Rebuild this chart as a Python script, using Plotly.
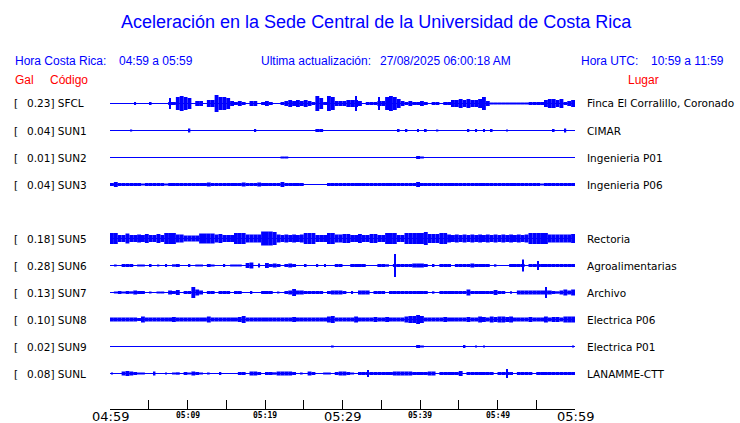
import plotly.graph_objects as go

W, H = 740, 423

TITLE = "Aceleración en la Sede Central de la Universidad de Costa Rica"
HORA_CR = "04:59 a 05:59"
HORA_UTC = "10:59 a 11:59"
ACTUALIZACION = "27/08/2025 06:00:18 AM"

CODES = ["SFCL", "SUN1", "SUN2", "SUN3", "SUN5", "SUN6", "SUN7", "SUN8", "SUN9", "SUNL"]
PEAK_GAL = [0.23, 0.04, 0.01, 0.04, 0.18, 0.28, 0.13, 0.10, 0.02, 0.08]
PLACES = ["Finca El Corralillo, Coronado", "CIMAR", "Ingenieria P01", "Ingenieria P06",
          "Rectoria", "Agroalimentarias", "Archivo", "Electrica P06", "Electrica P01",
          "LANAMME-CTT"]

TICK_MINUTES = [0, 5, 10, 15, 20, 25, 30, 35, 40, 45, 50, 55, 60]
TICK_LABELS = ["04:59", "", "05:09", "", "05:19", "", "05:29", "", "05:39", "", "05:49", "", "05:59"]
BIG_LABELS = ["04:59", "05:29", "05:59"]

# envelope half-amplitude of each trace, one value per half minute
SFCL_ENV = [0, 0, 0, 0, 0, 0, 1, 0, 0, 0, 1, 0, 0, 0, 0, 5, 1, 6, 7, 6,
            5, 0, 2, 2, 0, 3, 3, 8, 6, 6, 5, 2, 1, 2, 1, 0, 2, 2, 0, 1,
            2, 1, 0, 0, 1, 2, 3, 2, 3, 2, 3, 2, 1, 7, 5, 1, 7, 6, 2, 2,
            2, 3, 3, 7, 2, 0, 1, 1, 1, 6, 2, 6, 7, 6, 4, 2, 1, 2, 1, 1,
            2, 1, 0, 1, 1, 0, 1, 1, 3, 3, 4, 3, 4, 3, 3, 4, 6, 2, 0.5, 0.5,
            0.5, 0.5, 0.5, 0.5, 0.5, 0.5, 0.5, 0.5, 1, 1, 1, 1, 3, 4, 4, 3, 4, 1, 2, 3]
SUN1_ENV = [0, 0, 0, 0, 0, 0.5, 0, 0, 0, 0, 0, 0, 0, 0, 0, 0, 0, 0, 0, 0,
            1.5, 0, 0, 0, 0, 0, 0, 0, 0, 0, 0, 0, 0, 0, 0, 0, 0, 1, 0, 0,
            0, 0, 0, 0, 0, 0, 0, 0, 0, 0, 0, 0, 0, 1, 1, 0, 0, 0, 0, 0,
            0, 0, 0, 0, 0, 0, 0, 0, 0, 0, 0, 0, 0, 0, 1, 0, 1, 0, 0, 1,
            0, 1, 0, 0, 0.5, 0, 0, 0, 0, 0, 0, 0, 1, 0, 1, 0, 1, 0, 1, 0,
            0, 0, 0.5, 0, 0, 0, 0, 0, 0, 0, 0, 0, 0, 0, 1, 0, 0, 1.5, 0, 0]
SUN2_ENV = [0, 0, 0, 0, 0, 0, 0, 0, 0, 0, 0, 0, 0, 0, 0, 0, 0, 0, 0, 0,
            0, 0, 0, 0, 0, 0, 0, 0, 0, 0, 0, 0, 0, 0, 0, 0, 0, 0, 0, 0,
            0, 0, 0, 0, 0.5, 0.5, 0, 0, 0, 0, 0, 0, 0, 0, 0, 0, 0, 0, 0, 0,
            0, 0, 0, 0, 0, 0, 0, 0, 0, 0, 0, 0, 0, 0, 0, 0, 0, 0, 0, 1,
            0.5, 0, 0, 0, 0, 0, 0, 0, 0, 0, 0, 0, 0, 0, 0, 0, 0, 0, 0, 0,
            0, 0, 0, 0, 0, 0, 0, 0, 0, 0, 0, 0, 0, 0, 0, 0, 0, 0, 0, 0]
SUN3_ENV = [1, 2, 1, 1, 1, 1, 1, 1, 0.5, 1, 1, 1, 1, 1, 0.5, 1, 1, 1, 1, 1,
            1, 1, 1, 1, 1, 1.5, 1, 1, 1, 1, 1, 1, 1, 1, 1.5, 1, 1, 1, 1.5, 1,
            1, 1, 1, 1, 2, 1, 1, 1, 1, 1, 0, 0, 0, 0, 0, 0, 1, 1, 1, 1,
            1, 1, 1, 1, 1, 1, 1, 1, 1, 1, 1, 1, 1, 1, 1, 1, 1, 1, 1, 2,
            1, 1, 1, 1, 1, 1, 1, 1, 1, 1, 1, 1, 1, 1, 1, 1, 1, 1, 1, 1,
            1, 1, 1, 1, 1, 1, 1, 1, 1, 1, 1, 0.5, 1, 1, 1, 1, 1, 1, 1, 1]
SUN5_ENV = [5, 5, 3, 3, 4.5, 3, 3, 3.5, 3, 4, 3, 3, 4, 3, 5, 5, 5, 3.5, 3.5, 2.5,
            2.5, 2.5, 2.5, 4.5, 4.5, 4.5, 4.5, 3.5, 4, 3, 3, 3, 5, 5, 5, 3.5, 3.5, 3.5, 3.5, 6.5,
            6.5, 6.5, 6, 3.5, 3, 3.5, 3, 3.5, 3, 3.5, 5, 5, 5, 3, 3, 3, 5, 5, 3.5, 3.5,
            4, 4, 3, 3, 4, 3, 3, 4, 4, 3, 3, 5, 5, 5, 3, 3, 5, 5, 5, 5,
            5, 6, 4, 4, 4, 5, 5, 3.5, 3, 3.5, 3, 3.5, 3, 3.5, 3, 3.5, 3, 3.5, 3, 3.5,
            3, 3.5, 3, 3.5, 3, 3.5, 3, 3.5, 5, 5, 5, 5, 5, 3.5, 3.5, 3.5, 3.5, 3.5, 3.5, 4]
SUN6_ENV = [0, 0.5, 0, 1, 1, 1, 0, 0.5, 0.5, 0, 1, 0, 0.5, 0, 1, 0, 0.7, 1, 0, 0,
            1, 0, 0.5, 0.5, 0, 1, 0.5, 0, 0, 1, 0, 0.5, 0.5, 0.5, 0, 2, 2.5, 0, 1.5, 0,
            2, 1, 1.5, 1, 0, 1, 1.5, 1, 0, 0, 1, 0, 0, 1, 0, 1, 0, 0, 1, 1,
            0, 0, 1, 1, 1, 1, 0, 0, 0, 1, 1, 0.7, 0, 11, 1, 1, 1, 1, 1.5, 1.5,
            1.5, 1, 0, 1, 0, 1, 1, 1, 0, 1, 1, 1, 1, 1.5, 1, 1, 1, 1, 0, 0.7,
            0, 0, 0, 1, 1, 1, 5.5, 0, 1, 1, 4, 1, 1, 1, 1, 1, 1, 1, 1, 1]
SUN7_ENV = [0, 0.5, 1, 0.5, 1, 0.7, 1.5, 1, 1, 0, 0.5, 0, 0.5, 0.5, 0, 1.5, 1, 2, 0, 1,
            1, 5, 2.5, 1.5, 0, 1, 1, 0, 1, 1, 1, 0, 1, 1, 0, 0, 1, 0, 0, 1,
            1, 1, 0, 0.5, 0, 1, 1.5, 3, 1.5, 1.5, 1, 1, 1, 1, 1, 0, 1, 1.5, 1.5, 1.5,
            1, 0, 1, 0, 1.5, 1.5, 1.5, 0, 1, 1, 1, 0, 1, 1, 1, 1, 1, 1, 1, 1,
            1, 1, 0, 0.7, 0, 1, 1, 1, 1, 1, 1, 1, 2.5, 1, 1, 1, 1, 1, 1, 2,
            1, 1, 0, 0.7, 0, 1.5, 1.5, 1.5, 1.5, 1.5, 1.5, 1.5, 5, 1.5, 1, 0.7, 1.5, 2.5, 1.5, 2.5]
SUN8_ENV = [1.5, 1.5, 1.5, 1.5, 1.5, 1.5, 1.5, 1, 2.5, 1.5, 1.5, 1.5, 1.5, 1.5, 1.5, 1.5, 2, 1.5, 1.5, 1.5,
            1.5, 1.5, 1.5, 1.5, 1.5, 2.5, 1.5, 1.5, 1.5, 1.5, 1.5, 1.5, 1.5, 2, 3, 1.5, 1.5, 1.5, 1.5, 1.5,
            1.5, 1.5, 1.5, 1.5, 1.5, 1.5, 1.5, 2, 1.5, 1.5, 1.5, 1.5, 1.5, 1.5, 1.5, 1.5, 2.5, 3, 1.5, 1.5,
            1.5, 1.5, 1.5, 2.5, 1.5, 1.5, 1.5, 1.5, 2, 1.5, 1.5, 2, 1.5, 1.5, 1.5, 1.5, 2.5, 3, 3, 4,
            3, 1.5, 1.5, 1.5, 1.5, 1.5, 2, 1.5, 1.5, 1.5, 1.5, 1.5, 2, 1.5, 1.5, 2.5, 2, 1.5, 2.5, 2,
            2.5, 2.5, 2, 2.5, 1.5, 1.5, 1.5, 1.5, 2, 1.5, 1.5, 1.5, 2.5, 1.5, 2, 2, 1.5, 2.5, 2.5, 2.5]
SUN9_ENV = [0, 0, 0, 0, 0, 0, 0, 0, 0, 0, 0, 0, 0, 0, 0, 0, 0, 0, 0, 0,
            0, 0, 0, 0, 0, 0, 0, 0, 0, 0, 0, 0, 0, 0, 0, 0, 0, 0, 0, 0,
            0, 0, 0, 0, 0, 0, 0, 0, 0, 0, 0, 0, 0, 0, 0, 0, 0, 0.5, 0, 0,
            0, 0, 0, 0, 0, 0, 0, 0, 0, 0, 0, 0, 0, 0, 0, 0, 0, 0, 0, 1,
            0.5, 0, 0, 0, 0, 0, 0, 0, 0, 0, 0, 1, 0, 0, 0.5, 0, 0.5, 0, 0, 0,
            0, 0, 0, 0, 0, 0, 0, 0, 0, 0, 0, 0, 0, 0, 0, 0, 0, 0, 0, 0.5]
SUNL_ENV = [0.5, 0, 0, 1.5, 2, 1.5, 1, 0.5, 0.5, 0, 0, 1.5, 0, 0, 0.5, 0, 0.5, 0.7, 0, 1,
            0.5, 1.5, 1, 0.5, 0, 0.5, 0, 0, 1, 0, 0, 0, 0, 1, 1, 0, 1.5, 1.5, 1, 0,
            1, 1, 0.7, 1.5, 1.5, 1.5, 1.5, 1, 0, 0.5, 0, 1.5, 1, 0, 0, 0.5, 0.5, 0, 1, 1.5,
            1.5, 1, 0.5, 0, 1, 1, 3, 1, 1, 1, 1, 1, 1, 1.5, 1.5, 1.5, 1.5, 1.5, 1, 1,
            1, 1, 1.5, 1.5, 0, 1, 1, 1, 1, 1, 2, 0, 1, 1, 1, 1, 1, 1, 1, 0,
            1, 1, 4, 1, 0, 1, 1, 1, 1, 0, 1, 1, 1, 1, 1, 1, 1, 1, 1, 1]

ENVELOPES = [SFCL_ENV, SUN1_ENV, SUN2_ENV, SUN3_ENV, SUN5_ENV,
             SUN6_ENV, SUN7_ENV, SUN8_ENV, SUN9_ENV, SUNL_ENV]

# layout (pixels)
BIN_MIN = 0.5
ROW_SLOTS = [0, 1, 2, 3, 5, 6, 7, 8, 9, 10]   # empty slot after SUN3
ROW_TOP, ROW_STEP = 103.5, 27
AXIS_Y = 409
BLUE = "#0000ff"
SANS = "Liberation Sans, Arial, sans-serif"
DEJAVU = "DejaVu Sans"
LABEL_SIZE = 10.5

rows_y = [ROW_TOP + ROW_STEP * s for s in ROW_SLOTS]
span = len(SFCL_ENV) * BIN_MIN

fig = go.Figure()

# baseline of each trace
for yc in rows_y:
    fig.add_trace(go.Scatter(
        x=[0, span], y=[yc, yc], mode="lines",
        line=dict(color=BLUE, width=1), hoverinfo="skip"
    ))

# envelope of each trace as vertical bars; lone spikes are drawn narrow
xs, bases, heights, widths = [], [], [], []


def add_bar(i, a, yc, w):
    xs.append((i + 0.5) * BIN_MIN)
    bases.append(yc - a - 0.5)
    heights.append(2 * a + 1)
    widths.append(w)


for env, yc in zip(ENVELOPES, rows_y):
    n = len(env)
    for i, a in enumerate(env):
        if a <= 0:
            continue
        near = max(env[i - 1] if i > 0 else 0, env[i + 1] if i < n - 1 else 0)
        if near == 0:
            add_bar(i, a, yc, BIN_MIN * 0.45)
        elif a >= 2 * near + 1:
            add_bar(i, near, yc, BIN_MIN)
            add_bar(i, a, yc, BIN_MIN * 0.3)
        else:
            add_bar(i, a, yc, BIN_MIN)

fig.add_trace(go.Bar(
    x=xs, y=heights, base=bases, width=widths,
    marker=dict(color=BLUE, line=dict(width=0)), hoverinfo="skip"
))


def px(x):
    return x / W


def py(y):
    return 1 - y / H


annotations = [
    dict(text=TITLE, x=px(376), y=py(22), xanchor="center",
         font=dict(family=SANS, size=18, color=BLUE)),
    dict(text="Hora Costa Rica:", x=px(15), y=py(61), xanchor="left",
         font=dict(family=SANS, size=12, color=BLUE)),
    dict(text=HORA_CR, x=px(119), y=py(61), xanchor="left",
         font=dict(family=SANS, size=12, color=BLUE)),
    dict(text="Ultima actualización:", x=px(261), y=py(61), xanchor="left",
         font=dict(family=SANS, size=12, color=BLUE)),
    dict(text=ACTUALIZACION, x=px(380), y=py(61), xanchor="left",
         font=dict(family=SANS, size=12, color=BLUE)),
    dict(text="Hora UTC:", x=px(581), y=py(61), xanchor="left",
         font=dict(family=SANS, size=12, color=BLUE)),
    dict(text=HORA_UTC, x=px(724), y=py(61), xanchor="right",
         font=dict(family=SANS, size=12, color=BLUE)),
    dict(text="Gal", x=px(15), y=py(80), xanchor="left",
         font=dict(family=SANS, size=12, color="red")),
    dict(text="Código", x=px(50), y=py(80), xanchor="left",
         font=dict(family=SANS, size=12, color="red")),
    dict(text="Lugar", x=px(628), y=py(80), xanchor="left",
         font=dict(family=SANS, size=12, color="red")),
]

for code, gal, place, yc in zip(CODES, PEAK_GAL, PLACES, rows_y):
    annotations.append(dict(text="[", x=px(14), y=py(yc), xanchor="left",
                            font=dict(family=DEJAVU, size=LABEL_SIZE, color="black")))
    annotations.append(dict(text="%.2f] %s" % (gal, code), x=px(27), y=py(yc),
                            xanchor="left",
                            font=dict(family=DEJAVU, size=LABEL_SIZE, color="black")))
    annotations.append(dict(text=place, x=px(587), y=py(yc), xanchor="left",
                            font=dict(family=DEJAVU, size=LABEL_SIZE, color="black")))

for a in annotations:
    a.update(xref="paper", yref="paper")

# time labels under the axis
for m, lab in zip(TICK_MINUTES, TICK_LABELS):
    if not lab:
        continue
    if lab in BIG_LABELS:
        annotations.append(dict(text=lab, x=m, y=py(416.5), xref="x", yref="paper",
                                xanchor="center",
                                font=dict(family=DEJAVU, size=13, color="black")))
    else:
        annotations.append(dict(text="<b>%s</b>" % lab, x=m, y=py(415.5), xref="x",
                                yref="paper", xanchor="center",
                                font=dict(family="DejaVu Sans Mono", size=8, color="black")))

for a in annotations:
    a.update(yanchor="middle", showarrow=False, borderpad=0, borderwidth=0)

fig.update_layout(
    width=W, height=H,
    margin=dict(l=0, r=0, t=0, b=0),
    paper_bgcolor="white", plot_bgcolor="white",
    barmode="overlay", showlegend=False, hovermode=False,
    annotations=annotations,
    xaxis=dict(
        domain=[110 / W, 575 / W], range=[0, span],
        showgrid=False, zeroline=False,
        showline=True, linecolor="black", linewidth=1,
        ticks="inside", ticklen=9, tickwidth=1, tickcolor="black",
        tickvals=TICK_MINUTES, showticklabels=False,
        automargin=False, fixedrange=True
    ),
    yaxis=dict(
        domain=[(H - AXIS_Y) / H, 1], range=[AXIS_Y, 0],
        visible=False, fixedrange=True
    )
)

# the page's default body margin would shift the figure by 8 px
fig.write_html("out.html", config={"displayModeBar": False},
               post_script="document.body.style.margin='0';")
